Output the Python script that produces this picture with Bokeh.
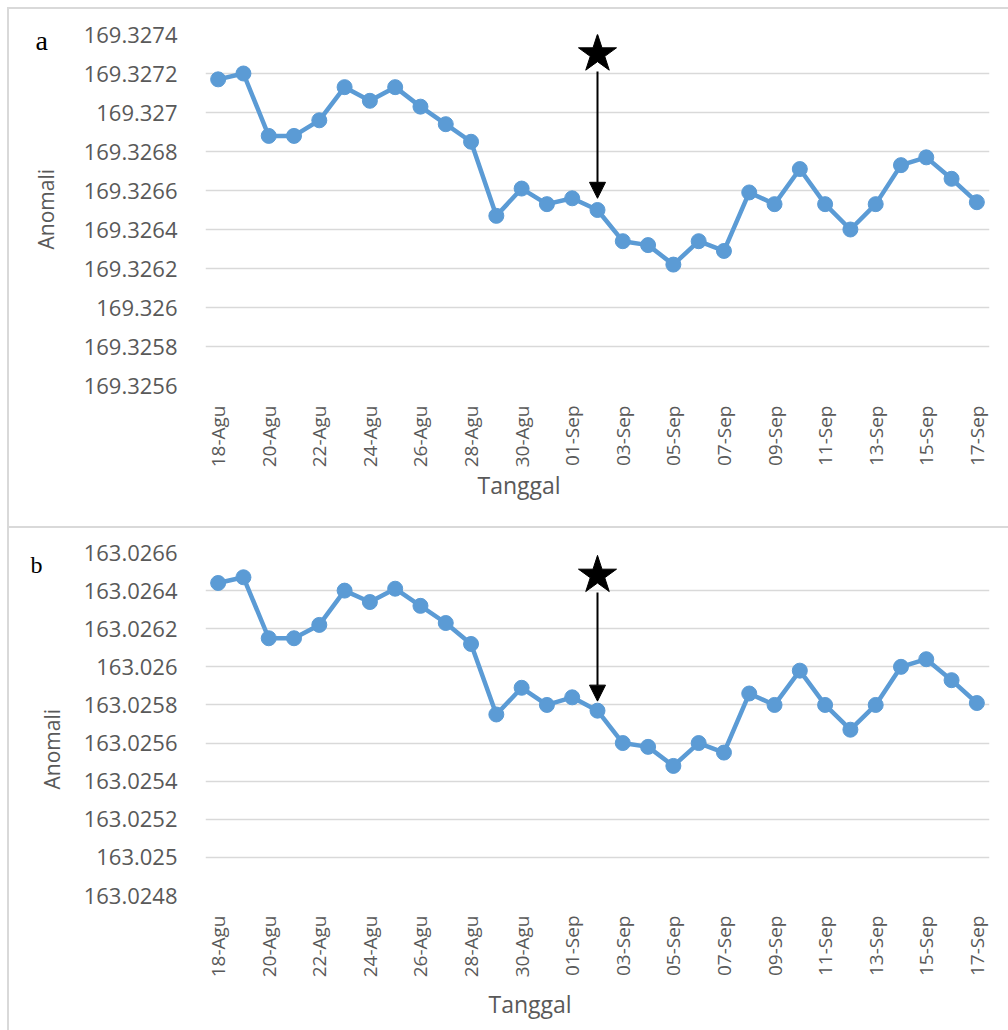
import math
from bokeh.plotting import figure
from bokeh.models import (Range1d, FixedTicker, Title, Arrow, NormalHead,
                          ColumnDataSource, InlineStyleSheet)
from bokeh.layouts import column
from bokeh.embed import file_html
from bokeh.resources import INLINE

# ---------------- data ----------------
dates = ["18-Agu", "19-Agu", "20-Agu", "21-Agu", "22-Agu", "23-Agu", "24-Agu",
         "25-Agu", "26-Agu", "27-Agu", "28-Agu", "29-Agu", "30-Agu", "31-Agu",
         "01-Sep", "02-Sep", "03-Sep", "04-Sep", "05-Sep", "06-Sep", "07-Sep",
         "08-Sep", "09-Sep", "10-Sep", "11-Sep", "12-Sep", "13-Sep", "14-Sep",
         "15-Sep", "16-Sep", "17-Sep"]

anomali_a = [169.32717, 169.32720, 169.32688, 169.32688, 169.32696, 169.32713,
             169.32706, 169.32713, 169.32703, 169.32694, 169.32685, 169.32647,
             169.32661, 169.32653, 169.32656, 169.32650, 169.32634, 169.32632,
             169.32622, 169.32634, 169.32629, 169.32659, 169.32653, 169.32671,
             169.32653, 169.32640, 169.32653, 169.32673, 169.32677, 169.32666,
             169.32654]

anomali_b = [163.02644, 163.02647, 163.02615, 163.02615, 163.02622, 163.02640,
             163.02634, 163.02641, 163.02632, 163.02623, 163.02612, 163.02575,
             163.02589, 163.02580, 163.02584, 163.02577, 163.02560, 163.02558,
             163.02548, 163.02560, 163.02555, 163.02586, 163.02580, 163.02598,
             163.02580, 163.02567, 163.02580, 163.02600, 163.02604, 163.02593,
             163.02581]

y_labels_a = ["169.3256", "169.3258", "169.326", "169.3262", "169.3264",
              "169.3266", "169.3268", "169.327", "169.3272", "169.3274"]
y_labels_b = ["163.0248", "163.025", "163.0252", "163.0254", "163.0256",
              "163.0258", "163.026", "163.0262", "163.0264", "163.0266"]

x_tick_step = 2
event_date = "02-Sep"
x_title = "Tanggal"
y_title = "Anomali"
# star marker value and arrow (start, tip) values per panel
star_a, arrow_a = 169.32730, (169.32721, 169.32656)
star_b, arrow_b = 163.02648, (163.02639, 163.02582)

LINE_COLOR = "#5B9BD5"
TEXT_GRAY = "#595959"
GRID = "#D9D9D9"
FONT = "Open Sans"

FRAME_CSS_A = """
:host { position: relative; }
:host::after { content: ""; position: absolute; left: 7px; top: 7px;
  width: 1001px; height: 521px; box-sizing: border-box;
  border: 2px solid #D9D9D9; border-right: none;
  pointer-events: none; z-index: 100; }
"""
FRAME_CSS_B = """
:host { position: relative; }
:host::after { content: ""; position: absolute; left: 7px; top: 0px;
  width: 1001px; height: 503px; box-sizing: border-box;
  border-left: 2px solid #D9D9D9;
  pointer-events: none; z-index: 100; }
"""


def make_panel(letter, values, y_labels, star_val, arrow_vals, height,
               top, bottom, letter_cfg, xt_cfg, yt_cfg, css):
    y_ticks = [float(s) for s in y_labels]
    n = len(dates)
    p = figure(width=1008, height=height, output_backend="svg",
               toolbar_location=None,
               x_range=Range1d(-0.5, n - 0.5),
               y_range=Range1d(y_ticks[0], y_ticks[-1]),
               min_border_left=205, min_border_right=19,
               min_border_top=top, min_border_bottom=bottom,
               stylesheets=[InlineStyleSheet(css=css)])
    p.outline_line_color = None
    p.background_fill_color = "white"
    p.border_fill_color = "white"

    xs = list(range(n))
    src = ColumnDataSource(dict(x=xs, y=values, d=dates))
    p.line("x", "y", source=src, line_color=LINE_COLOR, line_width=4.5)
    p.scatter("x", "y", source=src, size=15, fill_color=LINE_COLOR,
              line_color=LINE_COLOR)

    # event marker
    ei = dates.index(event_date)
    p.add_layout(Arrow(end=NormalHead(size=16, fill_color="black",
                                      line_color="black"),
                       x_start=ei, y_start=arrow_vals[0],
                       x_end=ei, y_end=arrow_vals[1],
                       line_color="black", line_width=2))
    p.scatter([ei], [star_val], marker="star", size=40, fill_color="black",
              line_color="black")

    # axes
    x_ticks = xs[::x_tick_step]
    p.xaxis.ticker = FixedTicker(ticks=x_ticks)
    p.xaxis.major_label_overrides = {t: dates[t] for t in x_ticks}
    p.xaxis.major_label_orientation = math.pi / 2
    p.xaxis.major_label_text_font = FONT
    p.xaxis.major_label_text_font_size = "19px"
    p.xaxis.major_label_text_color = TEXT_GRAY
    p.xaxis.major_label_standoff = 14
    p.xaxis.axis_line_color = None
    p.xaxis.major_tick_line_color = None
    p.xaxis.minor_tick_line_color = None

    p.yaxis.ticker = FixedTicker(ticks=y_ticks)
    p.yaxis.major_label_overrides = {t: s for t, s in zip(y_ticks, y_labels)}
    p.yaxis.major_label_text_font = FONT
    p.yaxis.major_label_text_font_size = "22px"
    p.yaxis.major_label_text_color = TEXT_GRAY
    p.yaxis.major_label_standoff = 22
    p.yaxis.axis_line_color = None
    p.yaxis.major_tick_line_color = None
    p.yaxis.minor_tick_line_color = None

    p.xgrid.visible = False
    p.ygrid.grid_line_color = GRID
    p.ygrid.grid_line_width = 1.5

    # axis titles and panel letter as titles in the side panels
    p.add_layout(Title(text=x_title, align="left", offset=xt_cfg[0],
                       vertical_align="top", standoff=xt_cfg[1],
                       text_font=FONT, text_font_size="23px",
                       text_font_style="normal", text_color=TEXT_GRAY), "below")
    p.add_layout(Title(text=y_title, align="left", offset=yt_cfg[0],
                       vertical_align="top", standoff=yt_cfg[1],
                       text_font=FONT, text_font_size="21px",
                       text_font_style="normal", text_color=TEXT_GRAY), "left")
    p.add_layout(Title(text=letter, align="left", offset=letter_cfg[2],
                       vertical_align="bottom", standoff=letter_cfg[1],
                       text_font="Liberation Serif",
                       text_font_size=letter_cfg[0],
                       text_font_style="normal", text_color="black"), "above")
    return p


pa = make_panel("a", anomali_a, y_labels_a, star_a, arrow_a, 527,
                34, 142, ("28px", -42, -170), (272, -3), (136, 38), FRAME_CSS_A)
pb = make_panel("b", anomali_b, y_labels_b, star_b, arrow_b, 503,
                25, 135, ("24px", -50, -175), (283, 14), (106, 26), FRAME_CSS_B)

layout = column(pa, pb, spacing=0)
open("out.html", "w").write(file_html(layout, INLINE))
